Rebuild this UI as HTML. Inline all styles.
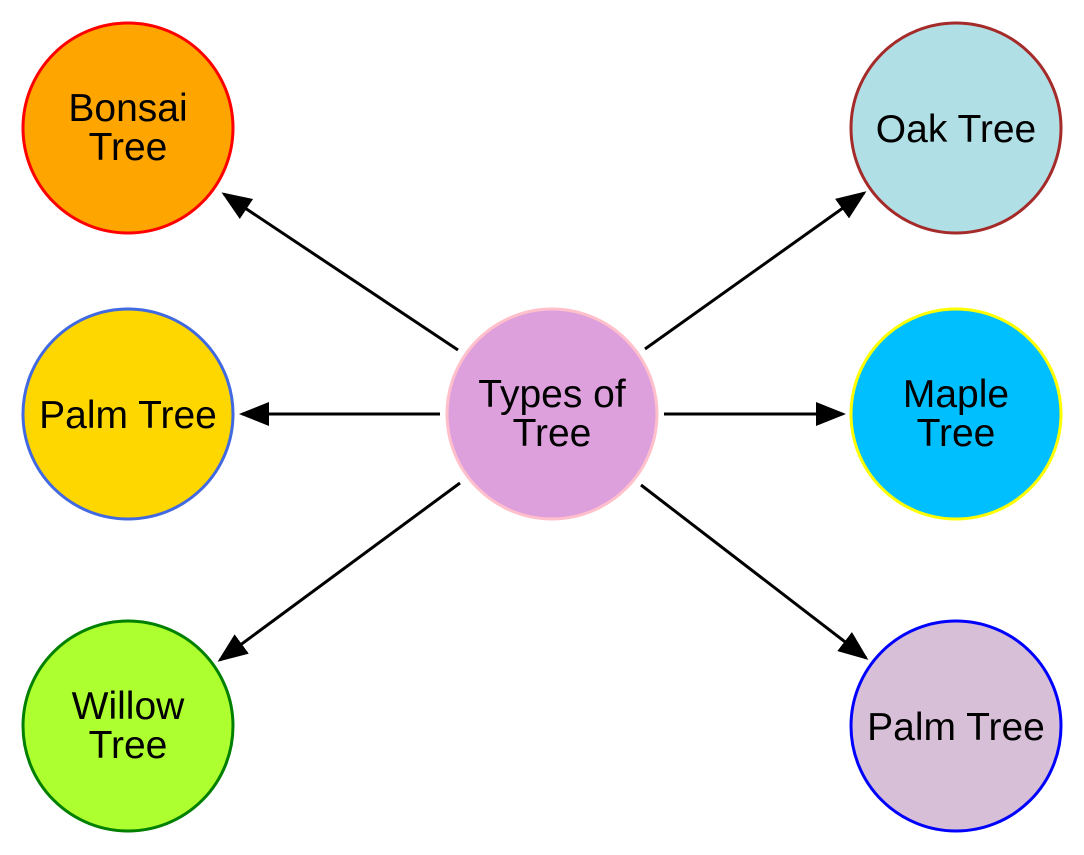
<!DOCTYPE html>
<html><head><meta charset="utf-8"><style>
html,body{margin:0;padding:0;background:#fff;}
svg{display:block}
text{font-family:"Liberation Sans",Arial,sans-serif;font-size:39px;fill:#000;text-anchor:middle}
</style></head><body>
<svg width="1084" height="855" viewBox="0 0 1084 855">
<defs><marker id="ah" markerWidth="10" markerHeight="8" refX="9" refY="4" orient="auto" markerUnits="strokeWidth"><path d="M0,0 L10,4 L0,8 z" fill="#000"/></marker></defs>
<g stroke="#000" stroke-width="3" marker-end="url(#ah)">
<line x1="458" y1="350" x2="224" y2="194"/>
<line x1="440" y1="414" x2="242" y2="414"/>
<line x1="460" y1="483" x2="220" y2="660"/>
<line x1="645" y1="349" x2="864" y2="193"/>
<line x1="664" y1="414" x2="843" y2="414"/>
<line x1="641" y1="485" x2="866" y2="658"/>
</g>
<g stroke-width="3">
<g><circle cx="552" cy="414" r="105" fill="#dda0dd" stroke="#ffc0cb"/><text x="552" y="407">Types of</text><text x="552" y="446">Tree</text></g>
<g><circle cx="128" cy="128" r="105" fill="#ffa500" stroke="#ff0000"/><text x="128" y="121">Bonsai</text><text x="128" y="160">Tree</text></g>
<g><circle cx="128" cy="414" r="105" fill="#ffd700" stroke="#4169e1"/><text x="128" y="428">Palm Tree</text></g>
<g><circle cx="128" cy="726" r="105" fill="#adff2f" stroke="#008000"/><text x="128" y="719">Willow</text><text x="128" y="758">Tree</text></g>
<g><circle cx="956" cy="128" r="105" fill="#b0e0e6" stroke="#a52a2a"/><text x="956" y="142">Oak Tree</text></g>
<g><circle cx="956" cy="414" r="105" fill="#00bfff" stroke="#ffff00"/><text x="956" y="407">Maple</text><text x="956" y="446">Tree</text></g>
<g><circle cx="956" cy="726" r="105" fill="#d8bfd8" stroke="#0000ff"/><text x="956" y="740">Palm Tree</text></g>
</g>
</svg>
</body></html>
